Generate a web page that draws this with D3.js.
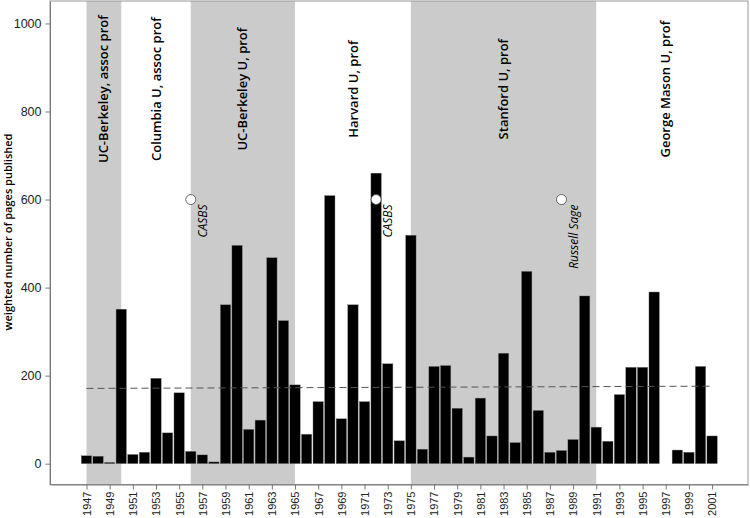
<!DOCTYPE html>
<html>
<head>
<meta charset="utf-8">
<script src="https://cdn.jsdelivr.net/npm/d3@7"></script>
<style>
  body { margin: 0; background: #fff; }
</style>
</head>
<body>
<div id="chart"></div>
<script>
// Data
var years = d3.range(1947, 2002);
var pages = [18, 17, 3, 351, 21, 26, 194, 70, 161, 28,
             20, 4, 361, 496, 78, 99, 468, 325, 179, 67,
             141, 609, 102, 361, 141, 660, 227, 52, 519, 33,
             221, 223, 126, 15, 149, 63, 251, 48, 437, 121,
             26, 30, 55, 381, 83, 51, 157, 219, 219, 390,
             null, 31, 26, 221, 63];

var periodStart = [1947, 1950, 1956, 1965, 1975, 1991];
var periodEnd = [1950, 1956, 1965, 1975, 1991, 2003];
var periodLabel = ["UC-Berkeley, assoc prof", "Columbia U, assoc prof", "UC-Berkeley U, prof",
                   "Harvard U, prof", "Stanford U, prof", "George Mason U, prof"];
var periodShaded = [true, false, true, false, true, false];

var eventYear = [1956, 1972, 1988];
var eventLabel = ["CASBS", "CASBS", "Russell Sage"];
var eventValue = 600;

var trendYears = [1947, 2001];
var trendValues = [171, 176];

var yTicks = [0, 200, 400, 600, 800, 1000];
var xTicks = d3.range(1947, 2002, 2);

var width = 750, height = 518;
var margin = {top: 1, right: 2, bottom: 33.5, left: 50};
var font = "'Open Sans', 'Noto Sans', sans-serif";

var svg = d3.select("#chart").append("svg")
    .attr("width", width)
    .attr("height", height);

var x = d3.scaleLinear()
    .domain([1943.85, 2004.1])
    .range([margin.left, width - margin.right]);
var y = d3.scaleLinear()
    .domain([-47.3, 1051])
    .range([height - margin.bottom, margin.top]);

// Shaded appointment periods
var periods = periodStart.map(function(s, i) {
    return {start: s, end: periodEnd[i], label: periodLabel[i], shaded: periodShaded[i]};
});
svg.append("g")
    .selectAll("rect")
    .data(periods.filter(function(d) { return d.shaded; }))
    .enter()
    .append("rect")
    .attr("x", function(d) { return x(d.start); })
    .attr("width", function(d) { return x(d.end) - x(d.start); })
    .attr("y", margin.top)
    .attr("height", height - margin.bottom - margin.top)
    .style("fill", "#cbcbcb");

// Period labels
svg.append("g")
    .selectAll("text")
    .data(periods)
    .enter()
    .append("text")
    .attr("transform", function(d) {
        return "translate(" + x((d.start + d.end) / 2) + "," + y(851) + ") rotate(-90)";
    })
    .attr("text-anchor", "middle")
    .attr("dy", "0.35em")
    .attr("font-family", font)
    .style("font-size", "13px")
    .style("font-weight", "600")
    .style("fill", "#000")
    .text(function(d) { return d.label; });

// Bars
var data = years.map(function(yr, i) { return {year: yr, value: pages[i]}; })
    .filter(function(d) { return d.value !== null; });
svg.append("g")
    .selectAll("rect")
    .data(data)
    .enter()
    .append("rect")
    .attr("x", function(d) { return x(d.year - 0.45); })
    .attr("width", function(d) { return x(d.year + 0.45) - x(d.year - 0.45); })
    .attr("y", function(d) { return y(d.value); })
    .attr("height", function(d) { return y(0) - y(d.value); })
    .style("fill", "#000")
    .style("stroke", "#888")
    .style("stroke-width", 0.4);

// Mean trend (dashed)
svg.append("path")
    .datum(trendYears.map(function(yr, i) { return {x: yr, y: trendValues[i]}; }))
    .attr("fill", "none")
    .attr("stroke", "#555")
    .attr("stroke-width", 1)
    .attr("stroke-dasharray", "7,4")
    .attr("d", d3.line().x(function(d) { return x(d.x); }).y(function(d) { return y(d.y); }));

// Event markers
var events = eventYear.map(function(yr, i) { return {year: yr, label: eventLabel[i]}; });
svg.append("g")
    .selectAll("circle")
    .data(events)
    .enter()
    .append("circle")
    .attr("cx", function(d) { return x(d.year); })
    .attr("cy", y(eventValue))
    .attr("r", 5)
    .style("fill", "#fff")
    .style("stroke", "#444")
    .style("stroke-width", 0.8);
svg.append("g")
    .selectAll("text")
    .data(events)
    .enter()
    .append("text")
    .attr("transform", function(d) {
        return "translate(" + (x(d.year) + 12) + "," + (y(eventValue) + 5) + ") rotate(-90)";
    })
    .attr("text-anchor", "end")
    .attr("dy", "0.35em")
    .attr("font-family", font)
    .style("font-size", "12px")
    .style("font-style", "italic")
    .text(function(d) { return d.label; });

// Panel border
svg.append("rect")
    .attr("x", margin.left)
    .attr("y", margin.top)
    .attr("width", width - margin.left - margin.right)
    .attr("height", height - margin.top - margin.bottom)
    .attr("fill", "none")
    .attr("stroke", "#999")
    .attr("stroke-width", 1);

// Axes
var yAxis = svg.append("g")
    .attr("transform", "translate(" + margin.left + ",0)")
    .call(d3.axisLeft(y).tickValues(yTicks).tickFormat(d3.format("d"))
        .tickSize(4.5).tickSizeOuter(0).tickPadding(4));
var xAxis = svg.append("g")
    .attr("transform", "translate(0," + (height - margin.bottom) + ")")
    .call(d3.axisBottom(x).tickValues(xTicks).tickFormat(d3.format("d"))
        .tickSize(5).tickSizeOuter(0).tickPadding(3));
[yAxis, xAxis].forEach(function(ax) {
    ax.select(".domain").attr("stroke", "#777");
    ax.selectAll(".tick line").attr("stroke", "#777");
    ax.selectAll(".tick text")
        .attr("font-family", "'Liberation Sans', Arial, sans-serif")
        .style("fill", "#222");
});
yAxis.selectAll(".tick text").style("font-size", "12.5px");
xAxis.selectAll(".tick text")
    .style("font-size", "11px")
    .attr("transform", "rotate(-90)")
    .attr("text-anchor", "end")
    .attr("x", -7)
    .attr("y", 0)
    .attr("dy", "0.35em");

// Y label
svg.append("text")
    .attr("transform", "translate(8,232) rotate(-90)")
    .attr("text-anchor", "middle")
    .attr("dy", "0.35em")
    .attr("font-family", font)
    .style("font-size", "11px")
    .style("font-weight", "600")
    .text("weighted number of pages published");
</script>
</body>
</html>
